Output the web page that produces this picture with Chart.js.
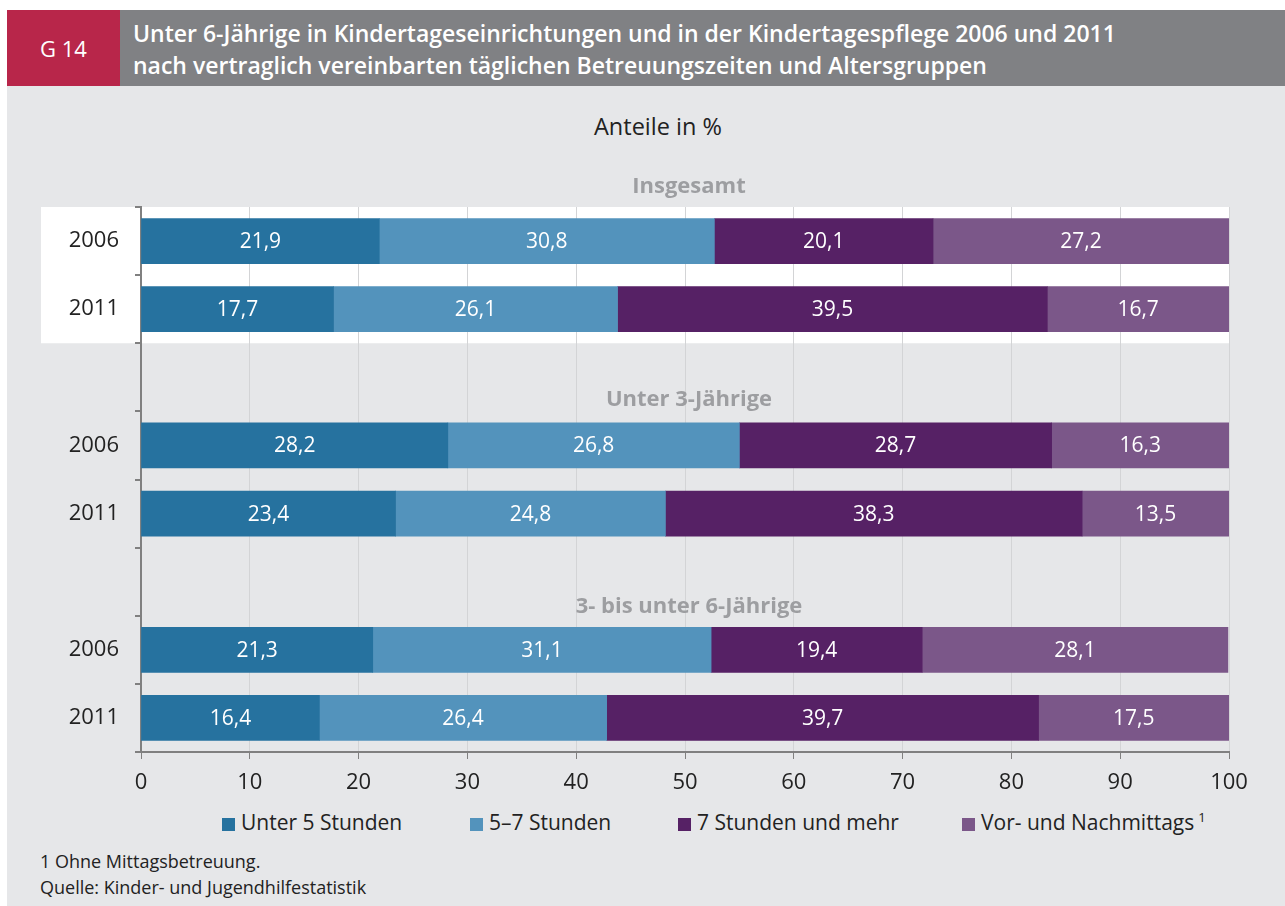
<!DOCTYPE html>
<html>
<head>
<meta charset="utf-8">
<script src="https://cdn.jsdelivr.net/npm/chart.js@4.4.0/dist/chart.umd.min.js"></script>
<style>
  body { margin: 0; width: 1285px; height: 906px; background: #fff; position: relative; overflow: hidden; font-family: "Open Sans", sans-serif; }
  .abs { position: absolute; }
  #tag { left: 7px; top: 10px; width: 113px; height: 76px; background: #b8264a; color: #fff; font-size: 22px; font-weight: 500; line-height: 76px; text-align: center; }
  #head { left: 120px; top: 10px; right: 0; height: 76px; background: #808184; color: #fff; font-size: 23px; font-weight: 600; line-height: 32px; padding: 7px 0 0 13px; box-sizing: border-box; white-space: nowrap; }
  #panel { left: 7px; top: 86px; right: 0; bottom: 0; background: #e6e7e9; }
  #unit { left: 594px; top: 110px; font-size: 23.5px; color: #222; }
  #box { left: 0; top: 150px; width: 1285px; height: 650px; }
  .leg { top: 808px; font-size: 21px; color: #222; white-space: nowrap; }
  .leg i { display: inline-block; width: 13px; height: 13px; margin-right: 6px; vertical-align: -1px; }
  .leg sup { font-size: 13px; margin-left: 4px; }
  .foot { left: 40px; font-size: 18px; color: #222; }
</style>
</head>
<body>
<div id="tag" class="abs">G 14</div>
<div id="head" class="abs">Unter 6-Jährige in Kindertageseinrichtungen und in der Kindertagespflege 2006 und 2011<br>nach vertraglich vereinbarten täglichen Betreuungszeiten und Altersgruppen</div>
<div id="panel" class="abs"></div>
<div id="unit" class="abs">Anteile in %</div>
<div id="box" class="abs"><canvas id="c" width="1285" height="650"></canvas></div>
<div class="abs leg" style="left:222px"><i style="background:#26729f"></i>Unter 5 Stunden</div>
<div class="abs leg" style="left:470px"><i style="background:#5393bc"></i>5–7 Stunden</div>
<div class="abs leg" style="left:678px"><i style="background:#562165"></i>7 Stunden und mehr</div>
<div class="abs leg" style="left:962px"><i style="background:#7b5789"></i>Vor- und Nachmittags<sup>1</sup></div>
<div class="abs foot" style="top:849px">1 Ohne Mittagsbetreuung.</div>
<div class="abs foot" style="top:875px">Quelle: Kinder- und Jugendhilfestatistik</div>
<script>
// rows top to bottom, empty rows hold the group headings
const rows = ['2006', '2011', '', '2006', '2011', '', '2006', '2011'];
const groups = ['Insgesamt', 'Unter 3-Jährige', '3- bis unter 6-Jährige'];

const unter5 = [21.9, 17.7, null, 28.2, 23.4, null, 21.3, 16.4];
const fuenfBisSieben = [30.8, 26.1, null, 26.8, 24.8, null, 31.1, 26.4];
const siebenUndMehr = [20.1, 39.5, null, 28.7, 38.3, null, 19.4, 39.7];
const vorNach = [27.2, 16.7, null, 16.3, 13.5, null, 28.1, 17.5];

const seriesNames = ['Unter 5 Stunden', '5–7 Stunden', '7 Stunden und mehr', 'Vor- und Nachmittags'];
const xTicks = [0, 10, 20, 30, 40, 50, 60, 70, 80, 90, 100];

const FONT = '"Open Sans", sans-serif';

const extras = {
    id: 'extras',
    beforeDraw(chart) {
        // white backdrop behind the "Insgesamt" rows
        const ctx = chart.ctx;
        const y = chart.scales.y;
        const a = chart.chartArea;
        const bottom = (y.getPixelForValue(1) + y.getPixelForValue(2)) / 2;
        ctx.save();
        ctx.fillStyle = '#fff';
        ctx.fillRect(41, a.top, a.right + 1 - 41, bottom - a.top);
        ctx.restore();
    },
    afterDatasetsDraw(chart) {
        const ctx = chart.ctx;
        ctx.save();
        ctx.font = '21px ' + FONT;
        ctx.fillStyle = '#fff';
        ctx.textAlign = 'center';
        ctx.textBaseline = 'middle';
        chart.data.datasets.forEach((ds, i) => {
            chart.getDatasetMeta(i).data.forEach((bar, j) => {
                const v = ds.data[j];
                if (v == null) return;
                ctx.fillText(v.toFixed(1).replace('.', ','), (bar.x + bar.base) / 2, bar.y + 1);
            });
        });
        // group headings
        const y = chart.scales.y;
        const a = chart.chartArea;
        const cx = (a.left + a.right) / 2 + 4;
        ctx.font = 'bold 22px ' + FONT;
        ctx.fillStyle = '#9d9ea1';
        ctx.fillText(groups[0], cx, a.top - 20);
        ctx.fillText(groups[1], cx, y.getPixelForValue(2) + 22);
        ctx.fillText(groups[2], cx, y.getPixelForValue(5) + 25);
        ctx.restore();
    }
};

const colors = ['#26729f', '#5393bc', '#562165', '#7b5789'];
const values = [unter5, fuenfBisSieben, siebenUndMehr, vorNach];

new Chart(document.getElementById('c'), {
    type: 'bar',
    data: {
        labels: rows,
        datasets: values.map((v, i) => ({
            label: seriesNames[i],
            data: v,
            backgroundColor: colors[i],
            borderWidth: 0,
            barThickness: 45
        }))
    },
    options: {
        indexAxis: 'y',
        responsive: false,
        animation: false,
        events: [],
        layout: { padding: { top: 57, right: 56, bottom: 0, left: 0 } },
        plugins: { legend: { display: false }, tooltip: { enabled: false } },
        scales: {
            x: {
                stacked: true,
                min: 0,
                max: 100,
                afterBuildTicks: s => { s.ticks = xTicks.map(v => ({ value: v })); },
                afterFit: s => { s.height = 48; },
                ticks: { color: '#222', font: { family: FONT, size: 22 }, padding: 11 },
                grid: { color: '#d3d4d6', tickColor: '#808080', tickLength: 7, lineWidth: 1 },
                border: { color: '#808080', width: 2 }
            },
            y: {
                stacked: true,
                afterFit: s => { s.width = 141; },
                ticks: { color: '#222', font: { family: FONT, size: 22 }, padding: 16 },
                grid: { drawOnChartArea: false, offset: true, color: '#808080', tickLength: 6, lineWidth: 2 },
                border: { color: '#808080', width: 2 }
            }
        }
    },
    plugins: [extras]
});
</script>
</body>
</html>
